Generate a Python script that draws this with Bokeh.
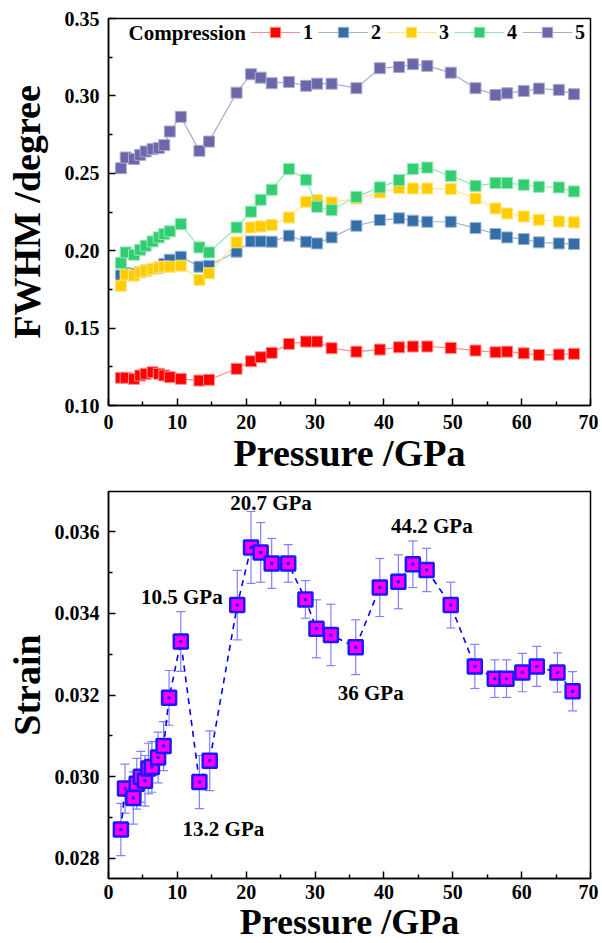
from bokeh.plotting import figure
from bokeh.models import (Range1d, Legend, LegendItem, Label, Whisker, TeeHead,
                          ColumnDataSource, FixedTicker, NumeralTickFormatter)
from bokeh.layouts import column
from bokeh.embed import file_html
from bokeh.resources import INLINE

# ---------------- data: panel (a) ----------------
pressure_a = [1.8, 2.5, 3.7, 4.6, 5.4, 6.4, 7.3, 8.1, 8.9, 10.5, 13.2, 14.6, 18.6, 20.7,
              22.1, 23.7, 26.2, 28.7, 30.3, 32.4, 36.0, 39.4, 42.2, 44.2, 46.3, 49.7,
              53.3, 56.2, 57.9, 60.3, 62.5, 65.4, 67.6]
fwhm_1 = [0.1179, 0.1179, 0.1172, 0.1194, 0.1205, 0.1215, 0.1205, 0.1194, 0.1183, 0.1172,
          0.1161, 0.1166, 0.1237, 0.1286, 0.1312, 0.1340, 0.1398, 0.1413, 0.1413, 0.1370,
          0.1348, 0.1361, 0.1376, 0.1381, 0.1381, 0.1372, 0.1355, 0.1344, 0.1348, 0.1337,
          0.1327, 0.1329, 0.1334]
fwhm_2 = [0.1840, 0.1855, 0.1850, 0.1862, 0.1872, 0.1882, 0.1890, 0.1915, 0.1942, 0.1961,
          0.1897, 0.1903, 0.1994, 0.2060, 0.2060, 0.2058, 0.2097, 0.2058, 0.2047, 0.2086,
          0.2161, 0.2198, 0.2209, 0.2194, 0.2187, 0.2187, 0.2146, 0.2108, 0.2086, 0.2075,
          0.2054, 0.2047, 0.2043]
fwhm_3 = [0.1774, 0.1845, 0.1839, 0.1860, 0.1871, 0.1882, 0.1892, 0.1897, 0.1897, 0.1903,
          0.1811, 0.1854, 0.2054, 0.2150, 0.2157, 0.2166, 0.2215, 0.2316, 0.2327, 0.2312,
          0.2337, 0.2376, 0.2405, 0.2402, 0.2402, 0.2398, 0.2337, 0.2273, 0.2241, 0.2221,
          0.2200, 0.2189, 0.2183]
fwhm_4 = [0.1921, 0.1989, 0.1974, 0.2006, 0.2032, 0.2060, 0.2086, 0.2108, 0.2125, 0.2172,
          0.2021, 0.1989, 0.2150, 0.2252, 0.2329, 0.2394, 0.2527, 0.2458, 0.2284, 0.2263,
          0.2348, 0.2409, 0.2456, 0.2527, 0.2537, 0.2484, 0.2419, 0.2437, 0.2437, 0.2426,
          0.2413, 0.2409, 0.2383]
fwhm_5 = [0.2533, 0.2602, 0.2592, 0.2619, 0.2641, 0.2656, 0.2663, 0.2682, 0.2770, 0.2865,
          0.2645, 0.2705, 0.3021, 0.3140, 0.3118, 0.3082, 0.3090, 0.3065, 0.3079, 0.3079,
          0.3050, 0.3179, 0.3187, 0.3205, 0.3194, 0.3150, 0.3050, 0.3006, 0.3017, 0.3032,
          0.3047, 0.3039, 0.3011]
series_labels = ["1", "2", "3", "4", "5"]
legend_title = "Compression"

# ---------------- data: panel (b) ----------------
pressure_b = [1.8, 2.4, 3.6, 4.1, 4.7, 5.3, 5.8, 6.3, 7.2, 8.0, 8.8, 10.5, 13.2, 14.7,
              18.7, 20.7, 22.1, 23.7, 26.1, 28.6, 30.2, 32.3, 35.9, 39.4, 42.1, 44.2,
              46.2, 49.7, 53.2, 56.1, 57.8, 60.1, 62.2, 65.2, 67.4]
strain = [0.02871, 0.02971, 0.02948, 0.02983, 0.03000, 0.02990, 0.03020, 0.03024, 0.03047,
          0.03075, 0.03193, 0.03331, 0.02987, 0.03039, 0.03420, 0.03561, 0.03549, 0.03522,
          0.03522, 0.03434, 0.03362, 0.03347, 0.03317, 0.03463, 0.03477, 0.03520, 0.03506,
          0.03420, 0.03270, 0.03240, 0.03240, 0.03255, 0.03270, 0.03255, 0.03209]
strain_err = [0.00064, 0.00060, 0.00064, 0.00062, 0.00062, 0.00062, 0.00062, 0.00062,
              0.00062, 0.00060, 0.00067, 0.00073, 0.00065, 0.00073, 0.00085, 0.00088,
              0.00073, 0.00061, 0.00046, 0.00046, 0.00071, 0.00075, 0.00067, 0.00071,
              0.00066, 0.00057, 0.00053, 0.00056, 0.00054, 0.00046, 0.00046, 0.00047,
              0.00049, 0.00048, 0.00048]
annot_pressure = [10.5, 13.2, 20.7, 44.2, 35.9]
annot_text = ["10.5 GPa", "13.2 GPa", "20.7 GPa", "44.2 GPa", "36 GPa"]

x_ticks = [0, 10, 20, 30, 40, 50, 60, 70]
ya_ticks = [0.10, 0.15, 0.20, 0.25, 0.30, 0.35]
yb_ticks = [0.028, 0.030, 0.032, 0.034, 0.036]

# ---------------- styling ----------------
SERIF = "Liberation Serif"
fill_cols = ["#FF0000", "#336EA8", "#FFCC00", "#33CC70", "#6B68AA"]
line_cols = ["#FF8C8C", "#9DB3D3", "#FFE680", "#8EE8B4", "#ABA9D0"]


def style(p, xlabel, ylabel, ytick, yminor, yfmt, ylab_standoff,
          xtick_standoff, xlab_standoff, xlab_size):
    p.xgrid.visible = False
    p.ygrid.visible = False
    p.outline_line_color = "black"
    p.outline_line_width = 1.5
    for ax in (p.xaxis[0], p.yaxis[0]):
        ax.axis_line_width = 1.5
        ax.major_tick_line_width = 1.5
        ax.minor_tick_line_width = 1.5
        ax.major_tick_in = 7
        ax.major_tick_out = 0
        ax.minor_tick_in = 4
        ax.minor_tick_out = 0
        ax.major_label_text_font = SERIF
        ax.major_label_text_font_style = "bold"
        ax.major_label_text_font_size = "20px"
        ax.major_label_text_color = "black"
        ax.axis_label_text_font = SERIF
        ax.axis_label_text_font_style = "bold"
        ax.axis_label_text_font_size = "38px"
        ax.axis_label_text_color = "black"
    p.xaxis[0].axis_label_text_font_size = xlab_size
    p.xaxis[0].ticker = FixedTicker(ticks=x_ticks,
                                    minor_ticks=[t + 5 for t in x_ticks[:-1]])
    p.xaxis[0].axis_label = xlabel
    p.xaxis[0].major_label_standoff = xtick_standoff
    p.xaxis[0].axis_label_standoff = xlab_standoff
    p.yaxis[0].ticker = FixedTicker(ticks=ytick, minor_ticks=yminor)
    p.yaxis[0].formatter = NumeralTickFormatter(format=yfmt)
    p.yaxis[0].axis_label = ylabel
    p.yaxis[0].major_label_standoff = 9
    p.yaxis[0].axis_label_standoff = ylab_standoff


# ---------------- panel (a) ----------------
pa = figure(frame_width=482, frame_height=387, output_backend="svg",
            toolbar_location=None,
            x_range=Range1d(0, 70), y_range=Range1d(0.10, 0.35),
            min_border_left=108, min_border_right=8, min_border_top=18,
            min_border_bottom=72)
style(pa, "Pressure /GPa", "FWHM /degree", ya_ticks,
      [0.125, 0.175, 0.225, 0.275, 0.325], "0.00", 14, 9, 0, "38px")

items = []
for ys, fc, lc, lab in zip([fwhm_1, fwhm_2, fwhm_3, fwhm_4, fwhm_5],
                           fill_cols, line_cols, series_labels):
    r_line = pa.line(pressure_a, ys, line_color=lc, line_width=1.2)
    r_pt = pa.scatter(pressure_a, ys, marker="square", size=11, fill_color=fc,
                      line_color=lc, line_width=1)
    items.append(LegendItem(label=lab, renderers=[r_line, r_pt]))

legend = Legend(items=items, orientation="horizontal", location=(142, 360),
                glyph_width=50, glyph_height=26, label_standoff=3, spacing=3,
                label_width=12, padding=0, margin=0, background_fill_alpha=0,
                border_line_alpha=0, label_text_font=SERIF,
                label_text_font_style="bold", label_text_color="black",
                label_text_font_size="20px", label_height=20)
pa.add_layout(legend)
pa.add_layout(Label(x=2.9, y=0.3405, text=legend_title, text_font=SERIF,
                    text_font_style="bold", text_font_size="21px",
                    text_color="black", text_baseline="middle", text_align="left"))
pa.add_layout(Label(x=6, y=38, x_units="canvas", y_units="canvas", text="(a)",
                    text_font=SERIF, text_font_size="40px", text_color="black",
                    text_baseline="middle", text_align="left"))

# ---------------- panel (b) ----------------
pb = figure(frame_width=482, frame_height=387, output_backend="svg",
            toolbar_location=None,
            x_range=Range1d(0, 70), y_range=Range1d(0.02751, 0.03698),
            min_border_left=108, min_border_right=8, min_border_top=14,
            min_border_bottom=62)
style(pb, "Pressure /GPa", "Strain", yb_ticks,
      [0.029, 0.031, 0.033, 0.035], "0.000", 4, 6, 0, "36px")

upper = [s + e for s, e in zip(strain, strain_err)]
lower = [s - e for s, e in zip(strain, strain_err)]
src_b = ColumnDataSource(dict(x=pressure_b, y=strain, upper=upper, lower=lower))
wh = Whisker(source=src_b, base="x", upper="upper", lower="lower",
             line_color="#8080FF", line_width=1.2,
             upper_head=TeeHead(size=9, line_color="#8080FF", line_width=1.2),
             lower_head=TeeHead(size=9, line_color="#8080FF", line_width=1.2),
             level="underlay")
pb.add_layout(wh)
pb.line("x", "y", source=src_b, line_color="#0000FF", line_width=1.6,
        line_dash="6 5")
pb.scatter("x", "y", source=src_b, marker="square_dot", size=14,
           fill_color="#FF00FF", line_color="#1A1AFF", line_width=2.5)

offsets = [(1, 44), (24, -47), (20, 44), (19, 38), (15, -46)]
for pr, txt, (dx, dy) in zip(annot_pressure, annot_text, offsets):
    idx = pressure_b.index(pr)
    pb.add_layout(Label(x=pressure_b[idx], y=strain[idx], x_offset=dx, y_offset=dy,
                        text=txt, text_font=SERIF, text_font_style="bold",
                        text_font_size="21px", text_color="black",
                        text_align="center", text_baseline="middle"))
pb.add_layout(Label(x=6, y=23, x_units="canvas", y_units="canvas", text="(b)",
                    text_font=SERIF, text_font_size="40px", text_color="black",
                    text_baseline="middle", text_align="left"))

layout = column(pa, pb, spacing=0)
open("out.html", "w").write(file_html(layout, INLINE))
